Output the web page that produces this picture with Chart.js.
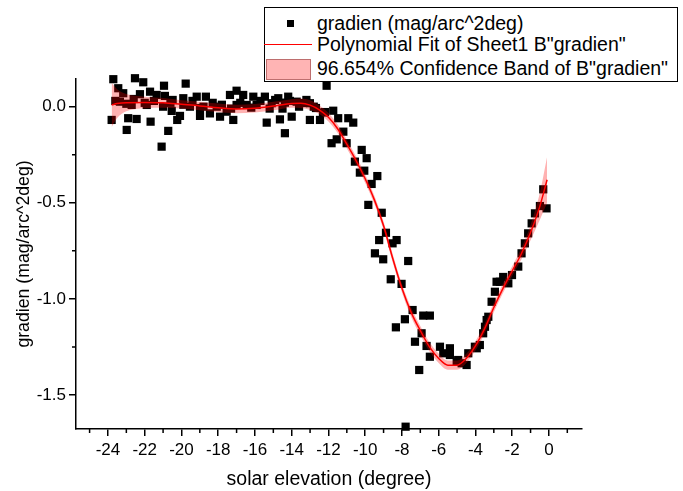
<!DOCTYPE html>
<html>
<head>
<meta charset="utf-8">
<script src="https://cdn.jsdelivr.net/npm/chart.js@4.4.0/dist/chart.umd.min.js"></script>
<style>
    body { margin: 0; background: #fff; }
    #wrap { position: relative; width: 683px; height: 491px; font-family: Arial, "Liberation Sans", sans-serif; }
    #wrap canvas { position: absolute; left: 0; top: 0; }
    .legend { position: absolute; left: 264px; top: 7px; width: 412px; height: 73px; border: 1px solid #000; background: #fff; }
    .leg-text { position: absolute; left: 52px; font-size: 19.5px; line-height: 22px; white-space: nowrap; color: #000; }
    .leg-marker { position: absolute; left: 21.5px; top: 11.5px; width: 7px; height: 7px; background: #000; }
    .leg-line { position: absolute; left: -1px; top: 35.75px; width: 48px; height: 1.5px; background: #ff0000; }
    .leg-swatch { position: absolute; left: 1px; top: 51px; width: 43px; height: 19px; background: rgb(255, 180, 180); border: 1px solid rgb(190, 110, 110); }
</style>
</head>
<body>
<div id="wrap">
    <canvas id="fitChart" width="683" height="491"></canvas>
    <div class="legend">
        <div class="leg-marker"></div>
        <div class="leg-text" style="top: 4px;">gradien (mag/arc^2deg)</div>
        <div class="leg-line"></div>
        <div class="leg-text" style="top: 25px;">Polynomial Fit of Sheet1 B"gradien"</div>
        <div class="leg-swatch"></div>
        <div class="leg-text" style="top: 49px;">96.654% Confidence Band of B"gradien"</div>
    </div>
</div>
<script>
// Measured points: solar elevation (degree) vs gradien (mag/arc^2deg)
const pointX = [
    // flat part, -24 .. -12
    -23.71, -22.53, -22.08, -20.14, -19.77, -20.95, -23.44, -23.17, -21.71, -22.26,
    -21.35, -20.90, -20.48, -19.90, -19.17, -18.67, -23.35, -22.71, -21.89, -19.54,
    -20.53, -18.99, -23.80, -22.90, -22.44, -21.68, -20.23, -20.08, -18.99, -22.98,
    -20.72, -21.08,
    -18.45, -18.08, -17.90, -17.54, -17.36, -17.18, -17.00, -17.00, -16.64, -16.45,
    -16.09, -15.91, -15.46, -15.36, -15.09, -14.73, -14.64, -14.37, -14.37, -14.19,
    -14.00, -13.73, -13.01, -13.01, -12.46, -12.10, -13.39, -12.68, -12.19,
    -23.6, -23.0, -22.6, -22.0, -21.5, -21.0, -20.6, -19.9, -19.4, -18.8,
    -18.3, -17.8, -17.3, -16.8, -16.2, -15.7, -15.2, -14.9, -14.5, -14.1,
    -13.6, -13.2, -12.8, -12.3,
    // falling part, -12 .. -8
    -11.74, -11.47, -10.92, -10.65, -11.19, -11.83, -11.55, -11.01, -10.19, -9.92,
    -10.56, -10.29, -10.05, -9.34, -9.65, -9.83, -9.10, -8.87, -9.24, -8.29,
    -8.51, -9.47, -9.02, -7.66, -8.61, -8.02,
    // minimum, -8 .. -4
    -7.42, -6.84, -6.48, -7.84, -8.33, -6.93, -7.29, -6.66, -5.93, -5.39,
    -6.48, -5.75, -5.39, -4.94, -4.48, -7.06, -5.02, -7.80,
    // rising part, -4 .. 0
    -3.93, -3.76, -3.58, -3.39, -3.12, -2.94, -2.85, -0.31, -0.13, -0.49,
    -0.76, -0.94, -1.13, -1.31, -1.49, -1.67, -2.21, -2.67, -2.49, -2.01,
    -3.30, -3.48, -4.03, -4.39, -4.75
];
const pointY = [
    0.143, 0.148, 0.127, 0.182, 0.120, 0.109, 0.096, 0.070, 0.078, 0.065,
    0.061, 0.056, 0.035, 0.044, 0.052, 0.052, 0.026, 0.009, 0.009, 0.000,
    -0.022, -0.007, -0.069, -0.060, -0.064, -0.078, -0.069, -0.048, -0.048, -0.121,
    -0.126, -0.208,
    -0.035, 0.000, -0.052, -0.026, 0.061, -0.069, 0.083, 0.009, 0.061, 0.009,
    0.052, 0.009, 0.052, -0.083, 0.018, 0.044, -0.066, 0.021, -0.138, 0.052,
    -0.052, 0.026, 0.018, -0.069, -0.069, 0.109, 0.019, -0.007, -0.028,
    0.030, 0.015, 0.040, 0.020, 0.030, 0.000, 0.020, 0.010, 0.030, 0.000,
    0.020, 0.010, -0.010, 0.020, -0.005, 0.030, -0.010, 0.035, -0.010, 0.030,
    0.000, 0.035, 0.000, -0.030,
    -0.021, -0.060, -0.060, -0.083, -0.130, -0.190, -0.170, -0.190, -0.225, -0.268,
    -0.286, -0.343, -0.333, -0.361, -0.402, -0.511, -0.552, -0.656, -0.694, -0.694,
    -0.711, -0.763, -0.794, -0.803, -0.898, -0.922,
    -1.058, -1.087, -1.087, -1.106, -1.148, -1.179, -1.223, -1.245, -1.249, -1.257,
    -1.301, -1.283, -1.292, -1.318, -1.344, -1.370, -1.327, -1.665,
    -1.257, -1.240, -1.179, -1.110, -1.015, -0.963, -0.911, -0.430, -0.529, -0.517,
    -0.555, -0.607, -0.659, -0.711, -0.763, -0.832, -0.919, -0.911, -0.886, -0.876,
    -1.093, -1.145, -1.249, -1.283, -1.335
];

// Polynomial fit and its confidence band
const fitX = [-23.8, -23.5, -23, -22, -21, -20, -19, -18, -17, -16, -15, -14, -13.5, -13, -12.5, -12,
    -11.5, -11, -10.5, -10, -9.5, -9, -8.5, -8, -7.5, -7, -6.5, -6, -5.5, -5, -4.5, -4,
    -3.5, -3, -2.5, -2, -1.5, -1, -0.5, -0.1];
const fitY = [0.008, 0.016, 0.021, 0.022, 0.020, 0.012, 0.004, -0.006, -0.012, -0.008, 0.003, 0.017, 0.018, 0.008, -0.016, -0.055,
    -0.115, -0.195, -0.280, -0.375, -0.485, -0.620, -0.790, -0.945, -1.070, -1.165, -1.250, -1.310, -1.345, -1.345, -1.310, -1.245,
    -1.155, -1.045, -0.945, -0.855, -0.765, -0.655, -0.520, -0.380];
const bandUpper = [0.123, 0.091, 0.066, 0.052, 0.045, 0.034, 0.026, 0.016, 0.010, 0.014, 0.025, 0.039, 0.043, 0.033, 0.006, -0.033,
    -0.093, -0.173, -0.258, -0.353, -0.463, -0.598, -0.768, -0.923, -1.046, -1.141, -1.226, -1.286, -1.321, -1.321, -1.286, -1.221,
    -1.130, -1.020, -0.920, -0.830, -0.735, -0.615, -0.450, -0.260];
const bandLower = [-0.107, -0.059, -0.024, -0.008, -0.005, -0.010, -0.018, -0.028, -0.034, -0.030, -0.019, -0.005, -0.007, -0.017, -0.038, -0.077,
    -0.137, -0.217, -0.302, -0.397, -0.507, -0.642, -0.812, -0.967, -1.094, -1.189, -1.274, -1.334, -1.369, -1.369, -1.334, -1.269,
    -1.180, -1.070, -0.970, -0.880, -0.795, -0.695, -0.590, -0.500];

// Axis ticks
const xTicks = [-24, -22, -20, -18, -16, -14, -12, -10, -8, -6, -4, -2, 0];
const xMinor = [-25, -23, -21, -19, -17, -15, -13, -11, -9, -7, -5, -3, -1, 1];
const yTicks = [0, -0.5, -1.0, -1.5];
const yMinor = [-0.25, -0.75, -1.25];

const toXY = (xs, ys) => xs.map((x, i) => ({ x: x, y: ys[i] }));

// minor tick marks drawn outside the axes
const minorTicks = {
    id: 'minorTicks',
    afterDraw(chart) {
        const ctx = chart.ctx;
        const xs = chart.scales.x, ys = chart.scales.y;
        const area = chart.chartArea;
        ctx.save();
        ctx.strokeStyle = '#000';
        ctx.lineWidth = 1.5;
        ctx.beginPath();
        xMinor.forEach(v => {
            const px = xs.getPixelForValue(v);
            ctx.moveTo(px, area.bottom);
            ctx.lineTo(px, area.bottom + 4);
        });
        yMinor.forEach(v => {
            const py = ys.getPixelForValue(v);
            ctx.moveTo(area.left, py);
            ctx.lineTo(area.left - 4, py);
        });
        ctx.stroke();
        ctx.restore();
    }
};

Chart.defaults.font.family = 'Arial, "Liberation Sans", sans-serif';
Chart.defaults.color = '#000';

const ctx = document.getElementById('fitChart').getContext('2d');
new Chart(ctx, {
    type: 'scatter',
    data: {
        datasets: [
            {
                type: 'line',
                label: 'Polynomial Fit of Sheet1 B"gradien"',
                data: toXY(fitX, fitY),
                borderColor: '#ff0000',
                borderWidth: 1.5,
                pointRadius: 0,
                cubicInterpolationMode: 'monotone',
                fill: false,
                order: 1
            },
            {
                type: 'line',
                label: '96.654% Confidence Band of B"gradien"',
                data: toXY(fitX, bandUpper),
                borderWidth: 0,
                borderColor: 'rgba(0,0,0,0)',
                backgroundColor: 'rgba(255, 0, 0, 0.3)',
                pointRadius: 0,
                cubicInterpolationMode: 'monotone',
                fill: '+1',
                order: 2
            },
            {
                type: 'line',
                label: 'band lower',
                data: toXY(fitX, bandLower),
                borderWidth: 0,
                borderColor: 'rgba(0,0,0,0)',
                pointRadius: 0,
                cubicInterpolationMode: 'monotone',
                fill: false,
                order: 2
            },
            {
                label: 'gradien (mag/arc^2deg)',
                data: toXY(pointX, pointY),
                pointStyle: 'rect',
                pointRadius: 5.8,
                pointBorderWidth: 0,
                backgroundColor: '#000',
                borderColor: '#000',
                clip: false,
                order: 3
            }
        ]
    },
    options: {
        responsive: false,
        animation: false,
        devicePixelRatio: 1,
        layout: { padding: { top: 79, right: 101, bottom: 0, left: 0 } },
        plugins: {
            legend: { display: false },
            tooltip: { enabled: false }
        },
        scales: {
            x: {
                type: 'linear',
                min: -25.74,
                max: 1.8,
                afterFit: s => { s.height = 62; },
                afterBuildTicks: s => { s.ticks = xTicks.map(v => ({ value: v })); },
                grid: { drawOnChartArea: false, tickLength: 7, color: '#000', lineWidth: 1.5 },
                border: { color: '#000', width: 1.5 },
                ticks: { font: { size: 17 }, padding: 4, maxRotation: 0, callback: v => String(v) },
                title: { display: true, text: 'solar elevation (degree)', font: { size: 19.5 }, padding: { top: 0, bottom: 0 } }
            },
            y: {
                type: 'linear',
                min: -1.677,
                max: 0.144,
                afterFit: s => { s.width = 76; },
                afterBuildTicks: s => { s.ticks = yTicks.map(v => ({ value: v })); },
                grid: { drawOnChartArea: false, tickLength: 7, color: '#000', lineWidth: 1.5 },
                border: { color: '#000', width: 1.5 },
                ticks: { font: { size: 17 }, padding: 3, callback: v => v.toFixed(1) },
                title: { display: true, text: 'gradien (mag/arc^2deg)', font: { size: 17.7 }, padding: { top: 13.4, bottom: 0 } }
            }
        }
    },
    plugins: [minorTicks]
});
</script>
</body>
</html>
